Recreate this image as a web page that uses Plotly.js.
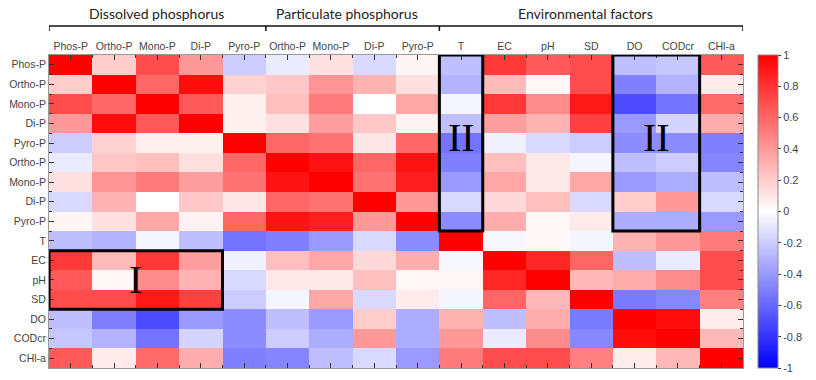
<!DOCTYPE html>
<html>
<head>
<meta charset="utf-8">
<script src="https://cdn.plot.ly/plotly-3.0.1.min.js"></script>
<style>html,body{margin:0;padding:0;background:#fff;}#chart{width:816px;height:380px;}</style>
</head>
<body>
<div id="chart"></div>
<script>
// Variable labels (rows top->bottom, columns left->right)
const labels = ["Phos-P","Ortho-P","Mono-P","Di-P","Pyro-P","Ortho-P","Mono-P","Di-P","Pyro-P","T","EC","pH","SD","DO","CODcr","CHl-a"];
const groupTitles = ["Dissolved phosphorus","Particulate phosphorus","Environmental factors"];
const colorbarTicks = [1,0.8,0.6,0.4,0.2,0,-0.2,-0.4,-0.6,-0.8,-1];
const colorbarText = ["1","0.8","0.6","0.4","0.2","0","-0.2","-0.4","-0.6","-0.8","-1"];

// Correlation rows
const rPhosP   = [1, 0.2, 0.7, 0.4, -0.2, -0.08, 0.12, -0.15, 0.04, -0.25, 0.78, 0.65, 0.7, -0.25, -0.22, 0.65];
const rOrthoD  = [0.2, 1, 0.6, 0.95, 0.18, 0.22, 0.42, 0.3, 0.12, -0.3, 0.27, 0.03, 0.7, -0.5, -0.3, 0.08];
const rMonoD   = [0.7, 0.6, 1, 0.65, 0.06, 0.25, 0.52, 0.0, 0.35, -0.04, 0.78, 0.45, 0.9, -0.7, -0.55, 0.58];
const rDiD     = [0.4, 0.95, 0.65, 1, 0.06, 0.12, 0.38, 0.22, 0.05, -0.25, 0.38, 0.3, 0.75, -0.4, -0.17, 0.32];
const rPyroD   = [-0.2, 0.18, 0.06, 0.06, 1, 0.6, 0.55, 0.1, 0.6, -0.55, -0.06, -0.15, -0.2, -0.45, -0.45, -0.5];
const rOrthoP  = [-0.08, 0.22, 0.25, 0.12, 0.6, 1, 0.93, 0.6, 0.93, -0.5, 0.25, 0.09, -0.04, -0.25, -0.2, -0.48];
const rMonoP   = [0.12, 0.42, 0.52, 0.38, 0.55, 0.93, 1, 0.55, 0.88, -0.4, 0.35, 0.09, 0.35, -0.4, -0.32, -0.25];
const rDiP     = [-0.15, 0.3, 0.0, 0.22, 0.1, 0.6, 0.55, 1, 0.4, -0.15, 0.15, 0.25, -0.15, 0.2, 0.4, -0.15];
const rPyroP   = [0.04, 0.12, 0.35, 0.05, 0.6, 0.93, 0.88, 0.4, 1, -0.45, 0.32, 0.03, 0.08, -0.32, -0.32, -0.4];
const rT       = [-0.25, -0.3, -0.04, -0.25, -0.55, -0.5, -0.4, -0.15, -0.45, 1, -0.03, 0.03, -0.04, 0.3, 0.4, 0.52];
const rEC      = [0.78, 0.27, 0.78, 0.38, -0.06, 0.25, 0.35, 0.15, 0.32, -0.03, 1, 0.85, 0.6, -0.25, -0.08, 0.7];
const rPH      = [0.65, 0.03, 0.45, 0.3, -0.15, 0.09, 0.09, 0.25, 0.03, 0.03, 0.85, 1, 0.28, 0.32, 0.45, 0.7];
const rSD      = [0.7, 0.7, 0.9, 0.75, -0.2, -0.04, 0.35, -0.15, 0.08, -0.04, 0.6, 0.28, 1, -0.52, -0.47, 0.5];
const rDO      = [-0.25, -0.5, -0.7, -0.4, -0.45, -0.25, -0.4, 0.2, -0.32, 0.3, -0.25, 0.32, -0.52, 1, 0.95, 0.07];
const rCOD     = [-0.22, -0.3, -0.55, -0.17, -0.45, -0.2, -0.32, 0.4, -0.32, 0.4, -0.08, 0.45, -0.47, 0.95, 1, 0.28];
const rCHL     = [0.65, 0.08, 0.58, 0.32, -0.5, -0.48, -0.25, -0.15, -0.4, 0.52, 0.7, 0.7, 0.5, 0.07, 0.28, 1];

const z = [rPhosP, rOrthoD, rMonoD, rDiD, rPyroD, rOrthoP, rMonoP, rDiP, rPyroP, rT, rEC, rPH, rSD, rDO, rCOD, rCHL];
const idx = labels.map((_, i) => i);
const bounds = []; for (let i = 0; i <= labels.length; i++) bounds.push(i - 0.5);

const trace = {
  type: 'heatmap', z: z, x: idx, y: idx,
  zmin: -1, zmax: 1,
  colorscale: [[0, 'rgb(0,0,255)'], [0.5, 'rgb(255,255,255)'], [1, 'rgb(255,0,0)']],
  hoverinfo: 'z',
  colorbar: {
    x: 1.0223, xanchor: 'left', xpad: 0, ypad: 0, y: 0.5, yanchor: 'middle', len: 1,
    thickness: 20, outlinewidth: 1, outlinecolor: '#888',
    tickmode: 'array', tickvals: colorbarTicks, ticktext: colorbarText,
    ticks: 'outside', ticklen: 3, tickcolor: '#333',
    tickfont: {family: 'Liberation Sans, Arial, sans-serif', size: 11, color: '#444'}
  }
};

const tickFont = {family: 'Liberation Sans, Arial, sans-serif', size: 10.5, color: '#444'};
const axisCommon = {
  tickmode: 'array', tickvals: idx, ticktext: labels,
  ticks: 'inside', ticklen: 5, tickcolor: '#333', tickwidth: 1,
  showline: true, linecolor: '#999', linewidth: 1, mirror: 'allticks',
  showgrid: false, zeroline: false, fixedrange: true, tickfont: tickFont,
  minor: {tickvals: bounds, ticks: 'inside', ticklen: 3, tickcolor: '#333', showgrid: false}
};

const groupX = [1.98, 6.38, 11.86];
const bracketPts = [-0.5, 4.5, 8.5, 15.5];
const lineY = 1.0927, tickY = 1.0767;
const shapes = [
  {type: 'line', xref: 'x', yref: 'paper', x0: bracketPts[0], x1: bracketPts[3], y0: lineY, y1: lineY, line: {color: '#111', width: 1.5}}
];
bracketPts.forEach(b => shapes.push({type: 'line', xref: 'x', yref: 'paper', x0: b, x1: b, y0: lineY, y1: tickY, line: {color: '#111', width: 1.5}}));
// Highlight boxes
shapes.push({type: 'rect', xref: 'x', yref: 'y', x0: -0.5, x1: 3.5, y0: 9.5, y1: 12.5, line: {color: '#000', width: 3}});
shapes.push({type: 'rect', xref: 'x', yref: 'y', x0: 8.5, x1: 9.5, y0: -0.5, y1: 8.5, line: {color: '#000', width: 3}});
shapes.push({type: 'rect', xref: 'x', yref: 'y', x0: 12.5, x1: 14.5, y0: -0.5, y1: 8.5, line: {color: '#000', width: 3}});

const romanFont = {family: 'Liberation Serif, Times New Roman, serif', size: 40, color: '#000'};
const annotations = groupTitles.map((t, i) => ({
  text: t, xref: 'x', yref: 'paper', x: groupX[i], y: 1.131, showarrow: false,
  xanchor: 'center', yanchor: 'middle',
  font: {family: 'Lato, Open Sans, sans-serif', size: 14, color: '#222'}
}));
annotations.push({text: 'I', xref: 'x', yref: 'y', x: 1.5, y: 11, showarrow: false, font: romanFont});
annotations.push({text: 'II', xref: 'x', yref: 'y', x: 9, y: 3.7, showarrow: false, font: romanFont});
annotations.push({text: 'II', xref: 'x', yref: 'y', x: 13.5, y: 3.7, showarrow: false, font: romanFont});

const layout = {
  width: 816, height: 380,
  margin: {l: 49, r: 51, t: 55, b: 12, pad: 0},
  paper_bgcolor: '#fff', plot_bgcolor: '#fff',
  xaxis: Object.assign({}, axisCommon, {side: 'top', range: [-0.5, 15.5]}),
  yaxis: Object.assign({}, axisCommon, {range: [15.5, -0.5]}),
  shapes: shapes, annotations: annotations, showlegend: false
};

Plotly.newPlot('chart', [trace], layout, {displayModeBar: false, staticPlot: true});
</script>
</body>
</html>
